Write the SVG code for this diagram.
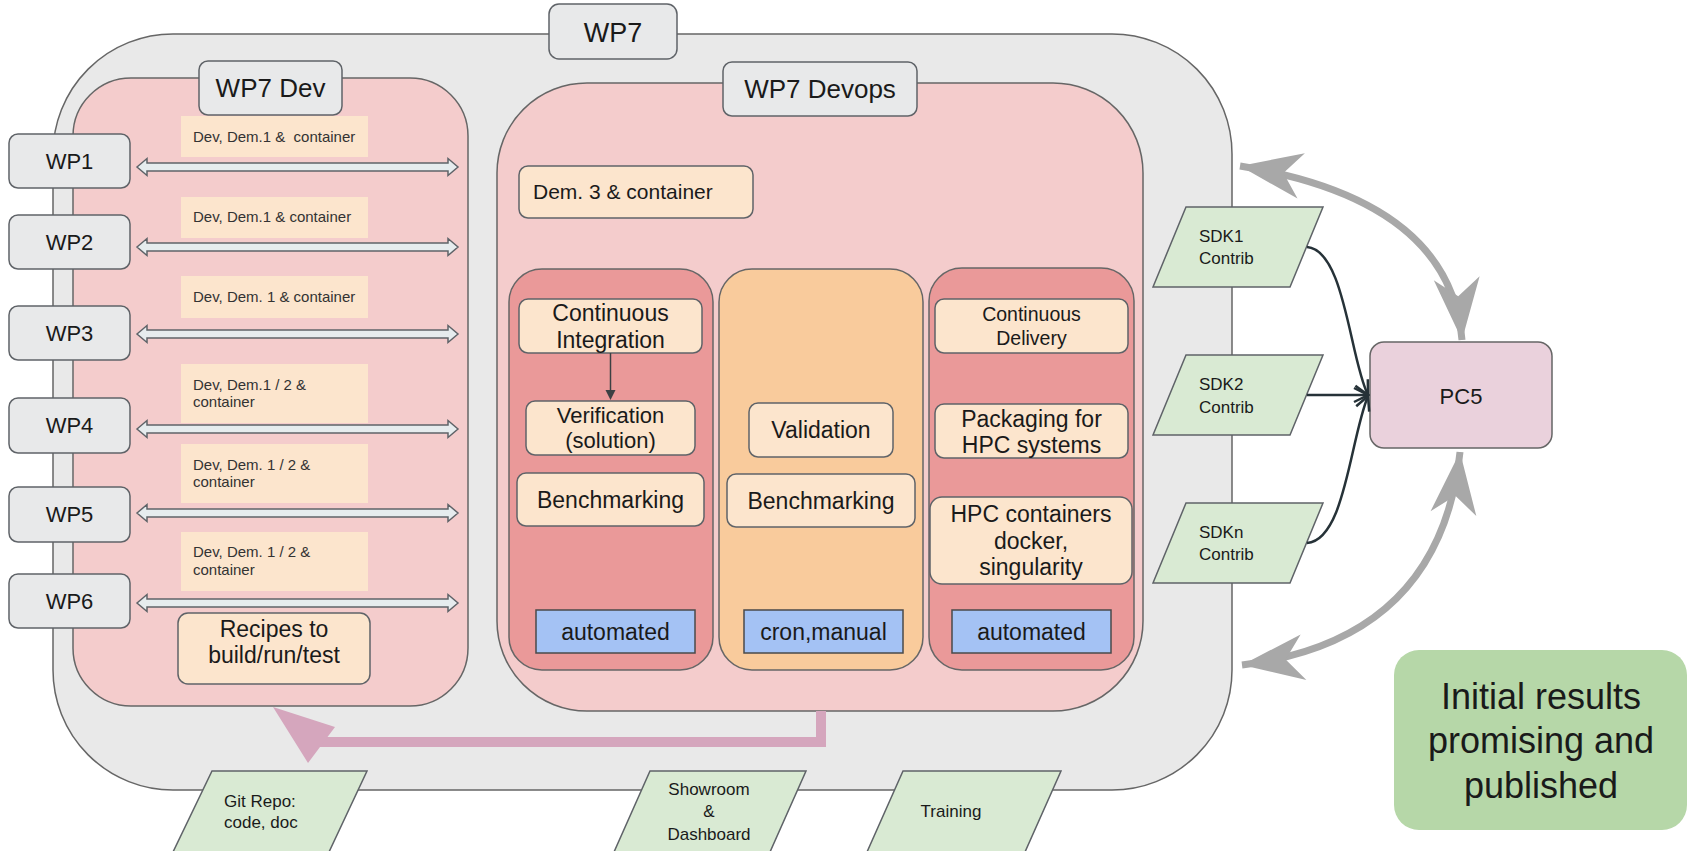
<svg xmlns="http://www.w3.org/2000/svg" width="1688" height="851" viewBox="0 0 1688 851">
<style>
text{font-family:"Liberation Sans",Arial,sans-serif;fill:#1a1a1a}
.big{fill:#e9e9e9;stroke:#666;stroke-width:1.5}
.pink{fill:#f4cccc;stroke:#666;stroke-width:1.5}
.col{fill:#ea9999;stroke:#666;stroke-width:1.5}
.col2{fill:#f9cb9c;stroke:#666;stroke-width:1.5}
.tag{fill:#e8e9ea;stroke:#5f6368;stroke-width:1.5}
.inner{fill:#fce5cd;stroke:#5f6368;stroke-width:1.5}
.lbl{fill:#fce5cd}
.blue{fill:#a4c2f4;stroke:#4a4a4a;stroke-width:1.5}
.green{fill:#d9ead3;stroke:#5f6368;stroke-width:1.5}
.dbl{fill:#e6ecee;stroke:#5f6368;stroke-width:1.5}
.t26{font-size:26px}
.t23{font-size:23px;text-anchor:middle}
.t22{font-size:22px;text-anchor:middle}
.t17{font-size:17px}
.t15{font-size:15px;fill:#333}
.gray{fill:none;stroke:#a8a8a8;stroke-width:7}
.dark{fill:none;stroke:#263238;stroke-width:2.5}
</style>
<defs>
<marker id="stealth" viewBox="-64 -26 66 52" refX="0" refY="0" markerWidth="66" markerHeight="52" markerUnits="userSpaceOnUse" orient="auto-start-reverse">
<path d="M0,0 L-62,-23 L-44,0 L-62,23 Z" fill="#a8a8a8"/>
</marker>
<marker id="chev" viewBox="-16 -9 18 18" refX="0" refY="0" markerWidth="18" markerHeight="18" markerUnits="userSpaceOnUse" orient="auto">
<path d="M-14,-7 L0,0 L-14,7" fill="none" stroke="#263238" stroke-width="2.5"/>
</marker>
</defs>

<g id="wp7">
<rect class="big" x="53" y="34" width="1179" height="756" rx="120"/>
</g>
<g id="wp7-dev">
<rect class="pink" x="73" y="78" width="395" height="628" rx="58"/>
</g>
<g id="wp7-devops">
<rect class="pink" x="497" y="83" width="646" height="628" rx="90"/>
</g>
<g id="wp7-label">
<rect class="tag" x="549" y="4" width="128" height="55" rx="10"/>
<text class="t26" x="613" y="42" text-anchor="middle" style="font-size:27px">WP7</text>
</g>
<g id="wp7-dev-label">
<rect class="tag" x="199" y="61" width="143" height="54" rx="9"/>
<text class="t26" x="270.5" y="97" text-anchor="middle">WP7 Dev</text>
</g>
<g id="wp7-devops-label">
<rect class="tag" x="723" y="62" width="194" height="54" rx="9"/>
<text class="t26" x="820" y="98" text-anchor="middle">WP7 Devops</text>
</g>

<g id="labels">
<rect class="lbl" x="181" y="116" width="187" height="41"/>
<text class="t15" x="193" y="142" xml:space="preserve">Dev, Dem.1 &amp;  container</text>
<rect class="lbl" x="181" y="197" width="187" height="41"/>
<text class="t15" x="193" y="222">Dev, Dem.1 &amp; container</text>
<rect class="lbl" x="181" y="276" width="187" height="42"/>
<text class="t15" x="193" y="302">Dev, Dem. 1 &amp; container</text>
<rect class="lbl" x="181" y="364" width="187" height="59"/>
<text class="t15" x="193" y="390">Dev, Dem.1 / 2 &amp;</text>
<text class="t15" x="193" y="407">container</text>
<rect class="lbl" x="181" y="444" width="187" height="59"/>
<text class="t15" x="193" y="470">Dev, Dem. 1 / 2 &amp;</text>
<text class="t15" x="193" y="487">container</text>
<rect class="lbl" x="181" y="532" width="187" height="59"/>
<text class="t15" x="193" y="557">Dev, Dem. 1 / 2 &amp;</text>
<text class="t15" x="193" y="575">container</text>
</g>

<g id="wp1"><rect class="tag" x="9" y="134" width="121" height="54" rx="9"/><text x="69.5" y="169" text-anchor="middle" style="font-size:22px">WP1</text></g>
<g id="wp2"><rect class="tag" x="9" y="215" width="121" height="54" rx="9"/><text x="69.5" y="250" text-anchor="middle" style="font-size:22px">WP2</text></g>
<g id="wp3"><rect class="tag" x="9" y="306" width="121" height="54" rx="9"/><text x="69.5" y="341" text-anchor="middle" style="font-size:22px">WP3</text></g>
<g id="wp4"><rect class="tag" x="9" y="398" width="121" height="55" rx="9"/><text x="69.5" y="433" text-anchor="middle" style="font-size:22px">WP4</text></g>
<g id="wp5"><rect class="tag" x="9" y="487" width="121" height="55" rx="9"/><text x="69.5" y="522" text-anchor="middle" style="font-size:22px">WP5</text></g>
<g id="wp6"><rect class="tag" x="9" y="574" width="121" height="54" rx="9"/><text x="69.5" y="609" text-anchor="middle" style="font-size:22px">WP6</text></g>

<g id="recipes">
<rect class="inner" x="178" y="613" width="192" height="71" rx="10"/>
<text class="t23" x="274" y="637">Recipes to</text>
<text class="t23" x="274" y="663">build/run/test</text>
</g>

<g id="dem3">
<rect class="inner" x="519" y="166" width="234" height="52" rx="9"/>
<text x="533" y="199" style="font-size:21px">Dem. 3 &amp; container</text>
</g>

<g id="col-ci"><rect class="col" x="509" y="269" width="204" height="401" rx="33"/></g>
<g id="col-val"><rect class="col2" x="719" y="269" width="204" height="401" rx="33"/></g>
<g id="col-cd"><rect class="col" x="929" y="268" width="205" height="402" rx="33"/></g>

<g id="ci"><rect class="inner" x="519" y="299" width="183" height="54" rx="9"/>
<text class="t23" x="610.5" y="321">Continuous</text><text class="t23" x="610.5" y="348">Integration</text></g>
<g id="verification"><rect class="inner" x="526" y="401" width="169" height="54" rx="9"/>
<text class="t22" x="610.5" y="423">Verification</text><text class="t22" x="610.5" y="448">(solution)</text></g>
<g id="bench1"><rect class="inner" x="517" y="473" width="187" height="53" rx="9"/>
<text class="t23" x="610.5" y="508">Benchmarking</text></g>
<g id="auto1"><rect class="blue" x="536" y="610" width="159" height="43"/>
<text class="t23" x="615.5" y="640">automated</text></g>

<g id="validation"><rect class="inner" x="749" y="403" width="144" height="54" rx="9"/>
<text class="t23" x="821" y="438">Validation</text></g>
<g id="bench2"><rect class="inner" x="727" y="474" width="188" height="53" rx="9"/>
<text class="t23" x="821" y="509">Benchmarking</text></g>
<g id="cron"><rect class="blue" x="744" y="610" width="159" height="43"/>
<text class="t23" x="823.5" y="640">cron,manual</text></g>

<g id="cd"><rect class="inner" x="935" y="299" width="193" height="54" rx="9"/>
<text class="t22" x="1031.5" y="321" style="font-size:19.5px">Continuous</text><text class="t22" x="1031.5" y="345" style="font-size:19.5px">Delivery</text></g>
<g id="packaging"><rect class="inner" x="935" y="404" width="193" height="54" rx="9"/>
<text class="t23" x="1031.5" y="427">Packaging for</text><text class="t23" x="1031.5" y="453">HPC systems</text></g>
<g id="hpc"><rect class="inner" x="930" y="497" width="202" height="87" rx="12"/>
<text class="t23" x="1031" y="522">HPC containers</text><text class="t23" x="1031" y="549">docker,</text><text class="t23" x="1031" y="575">singularity</text></g>
<g id="auto3"><rect class="blue" x="952" y="610" width="159" height="43"/>
<text class="t23" x="1031.5" y="640">automated</text></g>

<g id="sdk1"><path class="green" d="M1186,207 L1323,207 L1290,287 L1153,287 Z"/>
<text class="t17" x="1199" y="242">SDK1</text><text class="t17" x="1199" y="264">Contrib</text></g>
<g id="sdk2"><path class="green" d="M1186,355 L1323,355 L1290,435 L1153,435 Z"/>
<text class="t17" x="1199" y="390">SDK2</text><text class="t17" x="1199" y="413">Contrib</text></g>
<g id="sdkn"><path class="green" d="M1186,503 L1323,503 L1290,583 L1153,583 Z"/>
<text class="t17" x="1199" y="538">SDKn</text><text class="t17" x="1199" y="560">Contrib</text></g>

<g id="pc5"><rect x="1370" y="342" width="182" height="106" rx="14" fill="#ead1dc" stroke="#666" stroke-width="1.5"/>
<text x="1461" y="404" text-anchor="middle" style="font-size:22px">PC5</text></g>

<g id="git"><path class="green" d="M212,771 L367,771 L329,852 L173,852 Z"/>
<text class="t17" x="224" y="807">Git Repo:</text><text class="t17" x="224" y="828">code, doc</text></g>
<g id="showroom"><path class="green" d="M650,771 L806,771 L770,852 L614,852 Z"/>
<text class="t17" x="709" y="795" text-anchor="middle">Showroom</text><text class="t17" x="709" y="817" text-anchor="middle">&amp;</text><text class="t17" x="709" y="840" text-anchor="middle">Dashboard</text></g>
<g id="training"><path class="green" d="M903,771 L1061,771 L1025,852 L867,852 Z"/>
<text class="t17" x="951" y="817" text-anchor="middle">Training</text></g>

<g id="result"><rect x="1394" y="650" width="293" height="180" rx="25" fill="#b6d7a8"/>
<text x="1541" y="709" text-anchor="middle" style="font-size:36px">Initial results</text>
<text x="1541" y="753" text-anchor="middle" style="font-size:36px">promising and</text>
<text x="1541" y="798" text-anchor="middle" style="font-size:36px">published</text></g>

<g id="connectors">
<path class="dbl" d="M137,167 L147,158.5 L147,163 L448,163 L448,158.5 L458,167 L448,175.5 L448,171 L147,171 L147,175.5 Z"/>
<path class="dbl" d="M137,247 L147,238.5 L147,243 L448,243 L448,238.5 L458,247 L448,255.5 L448,251 L147,251 L147,255.5 Z"/>
<path class="dbl" d="M137,334 L147,325.5 L147,330 L448,330 L448,325.5 L458,334 L448,342.5 L448,338 L147,338 L147,342.5 Z"/>
<path class="dbl" d="M137,429 L147,420.5 L147,425 L448,425 L448,420.5 L458,429 L448,437.5 L448,433 L147,433 L147,437.5 Z"/>
<path class="dbl" d="M137,513 L147,504.5 L147,509 L448,509 L448,504.5 L458,513 L448,521.5 L448,517 L147,517 L147,521.5 Z"/>
<path class="dbl" d="M137,603 L147,594.5 L147,599 L448,599 L448,594.5 L458,603 L448,611.5 L448,607 L147,607 L147,611.5 Z"/>
<path d="M821,711 L821,742 L318,742" fill="none" stroke="#d5a6bd" stroke-width="10"/>
<path d="M273,707 L335,727 L308,763 Z" fill="#d5a6bd"/>
<path d="M610.5,353 L610.5,392" stroke="#3c4043" stroke-width="1.5"/>
<path d="M605.5,390 L615.5,390 L610.5,400 Z" fill="#3c4043"/>
<path class="dark" d="M1307,247 C1345,250 1350,360 1368,395" marker-end="url(#chev)"/>
<path class="dark" d="M1307,395 L1368,395" marker-end="url(#chev)"/>
<path class="dark" d="M1307,543 C1345,540 1350,440 1368,396" marker-end="url(#chev)"/>
<path class="gray" d="M1240,166 Q1450,200 1462,340" marker-start="url(#stealth)" marker-end="url(#stealth)"/>
<path class="gray" d="M1460,452 Q1440,640 1242,665" marker-start="url(#stealth)" marker-end="url(#stealth)"/>
</g>
</svg>
